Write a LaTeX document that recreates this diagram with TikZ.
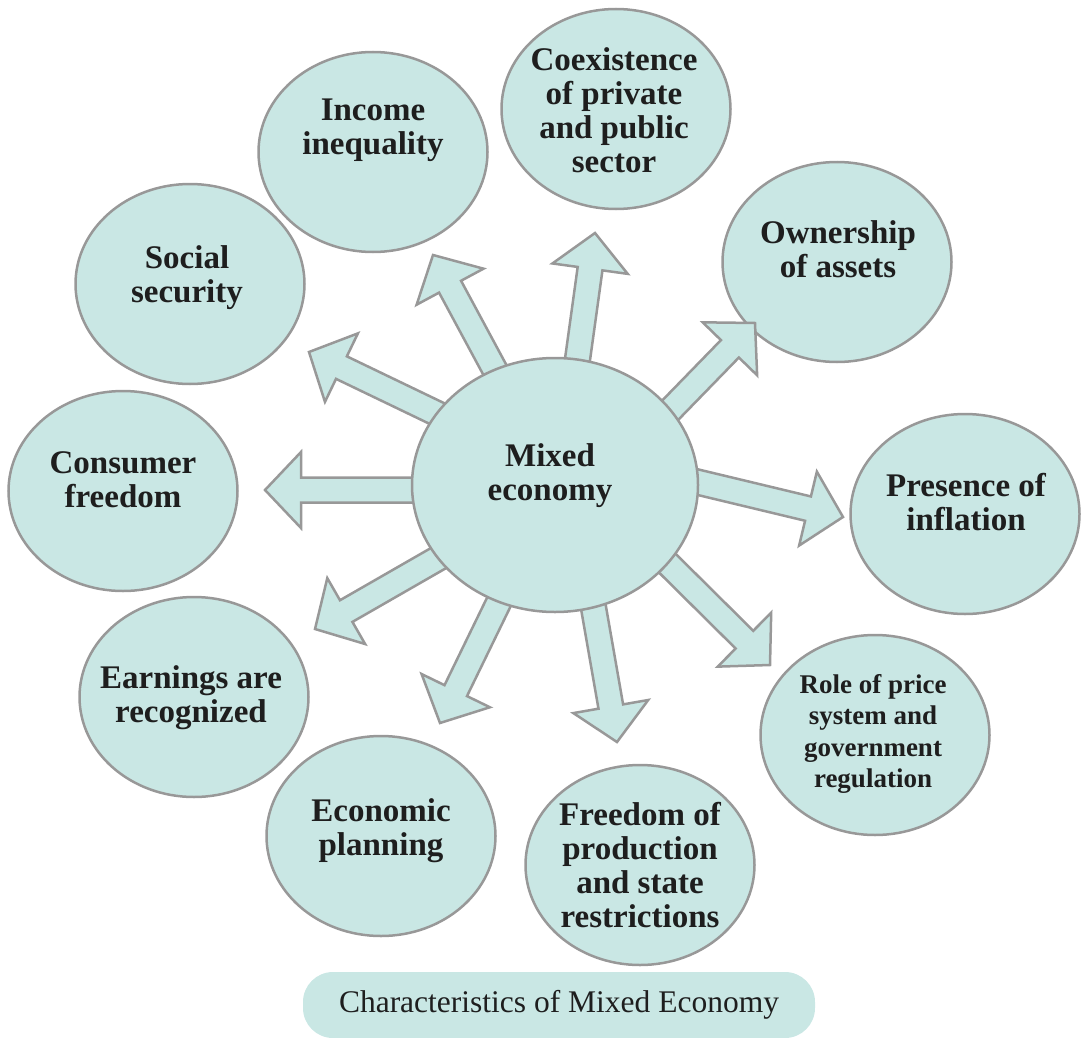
\documentclass[tikz,border=0pt]{standalone}
\usepackage{fontspec}
\setmainfont{Liberation Serif}
\usetikzlibrary{calc,shapes.geometric}
\definecolor{bfill}{RGB}{201,231,228}
\definecolor{bline}{RGB}{152,152,152}
\definecolor{btext}{RGB}{30,30,30}
\newcommand\blockarrow[3]{%
  \coordinate (#3h) at ($(#2)!36pt!(#1)$);
  \draw[barrow] ($(#1)!12.5pt!90:(#2)$) -- ($(#3h)!12.5pt!90:(#2)$) -- ($(#3h)!38pt!90:(#2)$)
    -- (#2) -- ($(#3h)!38pt!-90:(#2)$) -- ($(#3h)!12.5pt!-90:(#2)$) -- ($(#1)!12.5pt!-90:(#2)$) -- cycle;
}
\begin{document}
\begin{tikzpicture}[x=1pt,y=-1pt,
  bubble/.style={ellipse, draw=bline, fill=bfill, line width=2.5pt, inner sep=0pt, minimum width=229pt, minimum height=200pt},
  lbl/.style={align=center, text=btext, font=\bfseries\fontsize{33}{34}\selectfont},
  slbl/.style={align=center, text=btext, font=\bfseries\fontsize{27}{31.5}\selectfont},
  barrow/.style={draw=bline, fill=bfill, line width=2.5pt, line join=miter}]
\useasboundingbox (0,0) rectangle (1081,1038);

% outer bubbles
\node[bubble] (inc)  at (373,152) {};
\node[bubble] (coex) at (616,109) {};
\node[bubble] (own)  at (837,262) {};
\node[bubble] (pres) at (965,514) {};
\node[bubble] (role) at (875,735) {};
\node[bubble] (free) at (640,865) {};
\node[bubble] (econ) at (381,836) {};
\node[bubble] (earn) at (194,697) {};
\node[bubble] (cons) at (123,491) {};
\node[bubble] (soc)  at (190,284) {};

% arrow end points
\coordinate (s1) at (510,398);  \coordinate (t1) at (433,255);
\coordinate (s2) at (573,392);  \coordinate (t2) at (595,233);
\coordinate (s3) at (649,432);  \coordinate (t3) at (755,323);
\coordinate (s4) at (668,475);  \coordinate (t4) at (843,517);
\coordinate (s5) at (650,546);  \coordinate (t5) at (770,665);
\coordinate (s6) at (589,582);  \coordinate (t6) at (617,742);
\coordinate (s7) at (511,577);  \coordinate (t7) at (440,723);
\coordinate (s8) at (463,544);  \coordinate (t8) at (315,629);
\coordinate (s9) at (440,490);  \coordinate (t9) at (265,490);
\coordinate (s10) at (467,428); \coordinate (t10) at (309,352);

\blockarrow{s1}{t1}{a1}
\blockarrow{s2}{t2}{a2}
\blockarrow{s3}{t3}{a3}
\blockarrow{s4}{t4}{a4}
\blockarrow{s5}{t5}{a5}
\blockarrow{s6}{t6}{a6}
\blockarrow{s7}{t7}{a7}
\blockarrow{s8}{t8}{a8}
\blockarrow{s9}{t9}{a9}
\blockarrow{s10}{t10}{a10}

% centre bubble
\node[bubble, minimum width=286pt, minimum height=254pt] (m) at (555,485) {};

% labels
\node[lbl] at (550,476) {Mixed\\economy};
\node[lbl] at (373,130) {Income\\inequality};
\node[lbl] at (614,110) {Coexistence\\of private\\and public\\sector};
\node[lbl] at (838,249) {Ownership\\of assets};
\node[lbl] at (966,502) {Presence of\\inflation};
\node[slbl] at (873,734) {Role of price\\system and\\government\\regulation};
\node[lbl] at (640,865) {Freedom of\\production\\and state\\restrictions};
\node[lbl] at (381,831) {Economic\\planning};
\node[lbl] at (191,698) {Earnings are\\recognized};
\node[lbl] at (123,480) {Consumer\\freedom};
\node[lbl] at (187,278) {Social\\security};

% caption
\node[fill=bfill, rounded corners=30pt, minimum width=512pt, minimum height=66pt, inner sep=0pt,
      text=btext, font=\fontsize{31.5}{34}\selectfont] (cap) at (559,1005) {Characteristics of Mixed Economy};
\end{tikzpicture}
\end{document}
